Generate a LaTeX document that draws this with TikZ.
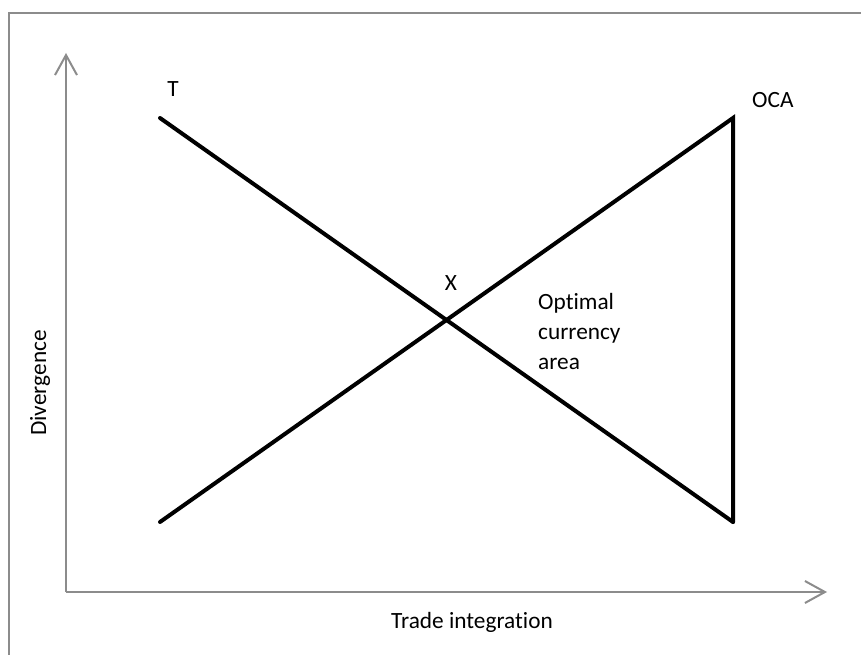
\documentclass[tikz,border=0pt]{standalone}
\usepackage{fontspec}
\setmainfont{Carlito}[Ligatures=NoCommon]
\usetikzlibrary{arrows.meta}
\definecolor{axisgray}{HTML}{8C8C8C}

\begin{document}
\begin{tikzpicture}[x=1pt, y=-1pt,
  every node/.style={font=\fontsize{23.3}{30}\selectfont, inner sep=0pt},
  frame/.style={draw=axisgray, line width=2pt},
  axis/.style={axisgray, line width=2pt, -{Straight Barb[length=20pt, width=22pt, line width=2pt]}},
  curve/.style={black, line width=4pt, line cap=round}
]
  \useasboundingbox (0,0) rectangle (861,655);
  % ---- outer frame (left and top edges) ----
  \coordinate (fbl) at (9,655);  \coordinate (ftl) at (9,13);  \coordinate (ftr) at (861,13);
  \draw[frame] (fbl) -- (ftl) -- (ftr);
  % ---- axes ----
  \coordinate (org) at (66,592);
  \coordinate (ytip) at (66,53);
  \coordinate (xtip) at (827,592);
  \draw[axis] (org) -- (ytip);
  \draw[axis] (org) -- (xtip);
  % ---- curves ----
  \coordinate (tl) at (160,118);  \coordinate (tr) at (733,522);
  \coordinate (ol) at (160,522);  \coordinate (or) at (733,118);
  \draw[curve] (tl) -- (tr);
  \draw[curve] (ol) -- (or) -- (tr);
  % ---- labels ----
  \node (lblT)   at (173,89)  {T};
  \node[anchor=west] (lblOCA) at (752,100) {OCA};
  \node (lblX)   at (451,283) {X};
  \node[anchor=west, align=left] (lblarea) at (538,331)
        {Optimal\\currency\\area};
  \node[rotate=90] (ylbl) at (40,383) {Divergence};
  \node (xlbl) at (472,622) {Trade integration};
\end{tikzpicture}
\end{document}
